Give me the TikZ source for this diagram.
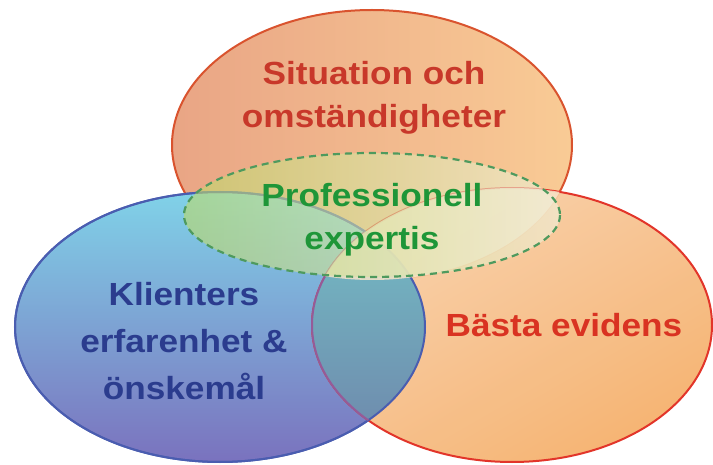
\documentclass[tikz,border=0pt]{standalone}
\usepackage{fontspec}
\setmainfont{Liberation Sans}[FakeStretch=1.1]
\usetikzlibrary{positioning}
\definecolor{topline}{HTML}{D9532E}
\definecolor{topleft}{HTML}{E9A585}
\definecolor{topright}{HTML}{F9CB95}
\definecolor{blueline}{HTML}{4A5DB0}
\definecolor{bluetop}{HTML}{80D2E8}
\definecolor{bluebottom}{HTML}{7A72BE}
\definecolor{redline}{HTML}{E2352A}
\definecolor{peachtop}{HTML}{F9D0AA}
\definecolor{peachbottom}{HTML}{F5B06C}
\definecolor{tealtop}{HTML}{74C4C8}
\definecolor{tealbottom}{HTML}{6E84AA}
\definecolor{cream}{HTML}{F6E4C8}
\definecolor{greenline}{HTML}{4E9A5E}
\definecolor{greenleft}{HTML}{BCD866}
\definecolor{greenright}{HTML}{F0F0DC}
\definecolor{toptext}{HTML}{C8382A}
\definecolor{greentext}{HTML}{1E9638}
\definecolor{bluetext}{HTML}{2B3C8E}
\definecolor{redtext}{HTML}{D93322}

\begin{document}
\begin{tikzpicture}[x=1pt, y=-1pt,
    label/.style={align=center, font=\fontsize{32}{43}\selectfont\bfseries},
    rim/.style={line width=2pt}
]
    \useasboundingbox (0,0) rectangle (713,465);

    % Situation (top)
    \path[rim, draw=topline, left color=topleft, right color=topright]
        (372,145) ellipse [x radius=200, y radius=135];

    % Klienter (left)
    \path[rim, draw=blueline, top color=bluetop, bottom color=bluebottom]
        (220,327) ellipse [x radius=205, y radius=135];

    % Evidens (right)
    \path[rim, draw=redline, top color=peachtop, bottom color=peachbottom,
          shading angle=30, fill opacity=0.95]
        (512,325) ellipse [x radius=200, y radius=137];

    % overlap left / right
    \begin{scope}
        \clip (220,327) ellipse [x radius=205, y radius=135];
        \shade[top color=tealtop, bottom color=tealbottom]
            (512,325) ellipse [x radius=200, y radius=137];
    \end{scope}
    \draw[rim, draw=blueline] (220,327) ellipse [x radius=205, y radius=135];
    \begin{scope}
        \clip (220,327) ellipse [x radius=205, y radius=135];
        \draw[rim, draw=bluebottom!80!red] (512,325) ellipse [x radius=200, y radius=137];
    \end{scope}

    % overlap top / right
    \begin{scope}
        \clip (372,145) ellipse [x radius=200, y radius=135];
        \fill[cream, fill opacity=0.85] (512,325) ellipse [x radius=200, y radius=137];
    \end{scope}

    % Professionell expertis (middle)
    \path[line width=2.2pt, draw=greenline, dash pattern=on 7pt off 5pt,
          left color=greenleft, right color=greenright, fill opacity=0.6]
        (372,215) ellipse [x radius=188, y radius=62];

    % Labels
    \node[label, text=toptext] (situation) at (374,98) {Situation och\\omständigheter};
    \node[label, text=greentext] (expertis) at (372,220) {Professionell\\expertis};
    \node[label, text=bluetext, font=\fontsize{32}{47}\selectfont\bfseries]
        (klienter) at (184,341) {Klienters\\erfarenhet \&\\önskemål};
    \node[label, text=redtext] (evidens) at (564,325) {Bästa evidens};
\end{tikzpicture}
\end{document}
